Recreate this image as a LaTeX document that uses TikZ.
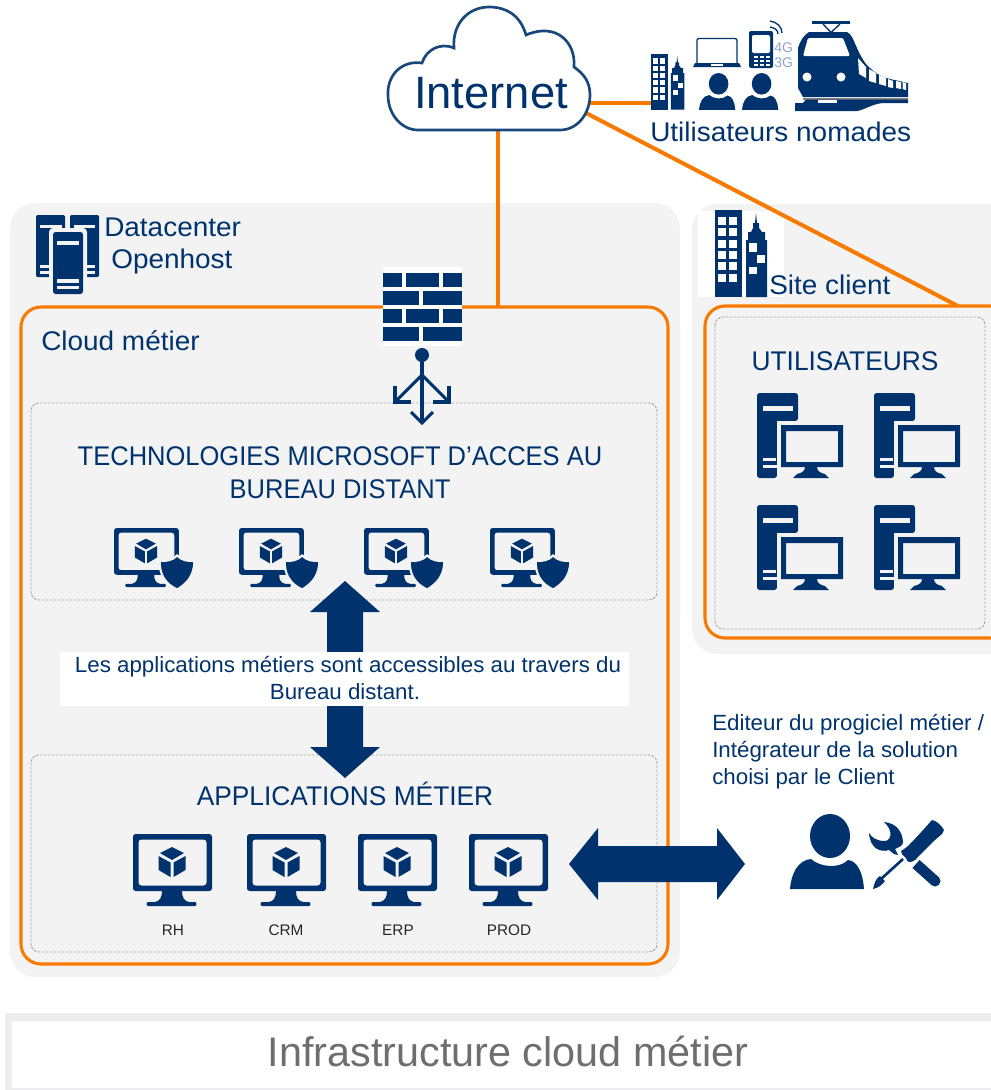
\documentclass[tikz,border=0pt]{standalone}
\usepackage{fontspec}
\setmainfont{Liberation Sans}
\newfontfamily\lowerfont[FakeStretch=1.035]{Liberation Sans}
\newfontfamily\smallfont[FakeStretch=1.015]{Liberation Sans}
\newfontfamily\techfont[FakeStretch=0.945]{Liberation Sans}
\newfontfamily\capsfont[FakeStretch=0.975]{Liberation Sans}
\definecolor{navy}{HTML}{00336E}
\definecolor{wireor}{HTML}{F87A00}
\definecolor{panelgray}{HTML}{F3F3F3}
\definecolor{dashgray}{HTML}{A6A6A6}
\definecolor{bandgray}{HTML}{EDEDEF}
\definecolor{titlegray}{HTML}{6E6E6E}
\definecolor{lightnavy}{HTML}{8FA5C8}
\newcommand{\pxfont}[1]{\fontsize{#1}{#1}\selectfont}
\newcommand{\moncore}{%
  \fill[navy,even odd rule,rounded corners=2pt] (0,0) rectangle (79,57) (5.5,5.5) rectangle (73.5,51.5);
  \fill[navy] (29,57) .. controls (29,63) and (27,67) .. (22,68) -- (15,68) .. controls (13,68) and (13,72) .. (15,72) -- (62,72) .. controls (64,72) and (64,68) .. (62,68) -- (56,68) .. controls (51,67) and (49,63) .. (49,57) -- cycle;
  \fill[navy] (39,13) -- (51,19) -- (39,26) -- (27,19) -- cycle;
  \fill[navy] (25.5,22) -- (37.5,28.5) -- (37.5,43) -- (25.5,36) -- cycle;
  \fill[navy] (52.5,22) -- (40.5,28.5) -- (40.5,43) -- (52.5,36) -- cycle;
}
\tikzset{
  panel/.style={fill=panelgray,rounded corners=19pt},
  orangebox/.style={draw=wireor,line width=2.3pt,rounded corners=15pt},
  dashbox/.style={draw=dashgray,line width=.7pt,dash pattern=on 2pt off 1pt,rounded corners=6pt},
  wire/.style={draw=wireor,line width=3pt},
  blockarrow/.style={fill=navy},
  routerline/.style={navy,line width=2.3pt},
  lbl/.style={inner sep=0pt,text=navy,font=\lowerfont\pxfont{20.25pt}},
  techlbl/.style={inner sep=0pt,text=navy,font=\techfont\pxfont{20.25pt}},
  capslbl/.style={inner sep=0pt,text=navy,font=\capsfont\pxfont{20.25pt}},
  lblsmall/.style={inner sep=0pt,text=navy,font=\smallfont\pxfont{16.5pt}},
  applbl/.style={inner sep=0pt,text=black!85,font=\pxfont{11.5pt},anchor=base},
  net/.style={inner sep=0pt,text=navy,font=\pxfont{34pt},anchor=base},
  monitorpic/.pic={\moncore},
  shieldmonitor/.pic={
    \moncore
    \fill[navy,draw=panelgray,line width=1.6pt] (77,33.5) .. controls (72,39) and (64,41) .. (56,40) .. controls (55,56) and (62,68) .. (77,75) .. controls (89,68) and (98,58) .. (98,40) .. controls (90,41) and (82,39) .. (77,33.5) -- cycle;
    \fill[panelgray] (96.5,30) rectangle (104,78);
  },
  workstation/.pic={
    \fill[navy,rounded corners=2pt] (0,0) -- (41,0) -- (41,28) -- (20,28) -- (20,85) -- (0,85) -- cycle;
    \fill[navy] (20,28) rectangle (24,85);
    \fill[panelgray] (6,13) rectangle (36,18);
    \fill[panelgray] (6,65) rectangle (19,68);
    \fill[panelgray] (6,72) rectangle (21,75);
    \fill[panelgray] (20,28) rectangle (86,85);
    \fill[navy,even odd rule] (24,32) rectangle (86,74) (29,38) rectangle (81,69);
    \fill[navy] (48,74) -- (60,74) .. controls (60,78) and (63,80) .. (68,81) -- (72,85) -- (36,85) -- (40,81) .. controls (45,80) and (48,78) .. (48,74) -- cycle;
  },
  bigbuilding/.pic={
    \fill[navy] (0,0) rectangle (27,87);
    \foreach \cx in {3,14} \foreach \ry in {7,18.3,29.6,40.9,52.2,63.5}
      \fill[white] (\cx,\ry) rectangle +(8,8);
    \fill[navy] (41,3) -- (42,13) -- (44,13) -- (44,18) -- (47,22) -- (50,22) -- (50,30) -- (52,30) -- (52,87) -- (31,87) -- (31,30) -- (33,30) -- (33,22) -- (36,22) -- (38,18) -- (38,13) -- (40,13) -- cycle;
    \fill[white] (34,33) rectangle (42,42);
    \fill[white] (42,45) rectangle (50,53);
    \fill[white] (34,57) rectangle (42,64);
  },
  personicon/.pic={
    \fill[navy] (40,22) ellipse (20 and 22);
    \fill[navy] (0,75) .. controls (1,60) and (8,46) .. (21,45) .. controls (28,52) and (48,56) .. (58,46) .. controls (68,47) and (73,60) .. (74,75) -- cycle;
  },
}
\begin{document}
\begin{tikzpicture}[x=.75pt,y=-.75pt]
\useasboundingbox (0,0) rectangle (991,1090);
\clip (0,0) rectangle (991,1090);
% panels
\fill[panel] (10,203) rectangle (680,977);
\fill[panel] (692,204) rectangle (1030,654);
% site icon
\fill[white] (698,211) rectangle (784,297);
\pic at (715,210) {bigbuilding};
% boxes
\draw[orangebox] (21,307) rectangle (668,964);
\draw[orangebox] (705,306) rectangle (1010,638);
\draw[dashbox] (31,403) rectangle (657,600);
\draw[dashbox] (31,755) rectangle (657,952);
\draw[dashbox] (715,317) rectangle (985,629);
% anchor points and wires
\coordinate (cloudE) at (588,103);
\coordinate (cloudSE) at (586,113);
\coordinate (cloudS) at (498,128);
\coordinate (nomadW) at (652,103);
\coordinate (metierTop) at (498,307);
\coordinate (siteTop) at (958,306);
\draw[wire] (cloudE) -- (nomadW);
\draw[wire] (cloudSE) -- (siteTop);
\draw[wire] (cloudS) -- (metierTop);
% cloud
\draw[navy!90!white,line width=2pt,fill=white] (418,130) -- (560,130) .. controls (578,130) and (590,113) .. (590,95) .. controls (590,82) and (584,74) .. (574,67) .. controls (576,42) and (556,22) .. (526,35) .. controls (520,14) and (505,7) .. (489,7) .. controls (468,7) and (452,24) .. (454,48) .. controls (440,42) and (426,50) .. (422,63) .. controls (402,60) and (387,75) .. (388,95) .. controls (388,115) and (402,130) .. (418,130) -- cycle;
\node[net] (internet) at (491,108) {Internet};
% nomad icons
\pic[scale=.64] at (651,54) {bigbuilding};
\pic[scale=.49] at (699,73) {personicon};
\pic[scale=.49] at (742,73) {personicon};
\draw[navy,line width=1pt,rounded corners=1.5pt] (697,63) -- (697,38.5) -- (737,38.5) -- (737,63);
\fill[navy] (695,63) -- (739,63) -- (741,67) -- (693,67) -- cycle;
\fill[white] (711,64) rectangle (723,66);
\fill[navy,rounded corners=1.5pt] (749,31) rectangle (773,68);
\fill[white,rounded corners=1pt] (752,35) rectangle (770,53);
\foreach \kx in {753.5,759.5,765.5} \foreach \ky in {55.5,59.5,63.5} \fill[white] (\kx,\ky) rectangle +(4.2,2.8);
\draw[navy,line width=1pt] (770,27) .. controls (775,28) and (778,30) .. (778,34);
\draw[navy,line width=1pt] (770,21) .. controls (777,22) and (782,27) .. (782,33);
\node[inner sep=0pt,text=lightnavy,font=\pxfont{10.5pt},anchor=base west] (g4) at (774,52) {4G};
\node[inner sep=0pt,text=lightnavy,font=\pxfont{10.5pt},anchor=base west] (g3) at (774,67) {3G};
% train
\fill[navy] (812,21) rectangle (850,24.3);
\draw[navy,line width=1pt] (823,24) -- (831,32.5) -- (840,24);
\fill[navy] (809,32) -- (847,32) .. controls (852,34) and (854,42) .. (857,48) .. controls (861,57) and (865,64) .. (870,68) .. controls (876,74) and (884,78) .. (890,79) -- (908,83) -- (908,97) -- (803,97) -- (798,88) -- (798,48) .. controls (800,41) and (804,35) .. (809,32) -- cycle;
\fill[white,rounded corners=1pt] (808,38) -- (843,38) -- (850,56) -- (803,56) -- cycle;
\fill[white] (807,77) circle (4.5);
\fill[white] (841,77) circle (4.5);
\fill[white] (858,58) -- (866,67) -- (866,78) -- (859,74) -- cycle;
\fill[white] (869,69) -- (876,73) -- (876,83) -- (869,81) -- cycle;
\fill[white] (879,75) -- (886,78) -- (886,86) -- (879,84) -- cycle;
\fill[white] (888,79) -- (893,81) -- (893,88) -- (888,87) -- cycle;
\fill[white] (896,81) -- (901,82) -- (901,89) -- (896,88) -- cycle;
\fill[white] (902.5,82) -- (906,83) -- (906,90) -- (902.5,89) -- cycle;
\fill[black!50] (803,97.5) rectangle (908,99.5);
\fill[navy] (806,99.5) -- (908,99.5) -- (908,103) -- (883,103) .. controls (872,104) and (864,110) .. (857,111) -- (795,111) -- (795,103) -- (803,103) -- cycle;
\fill[white] (818,99.5) rectangle (837,103);
% labels
\node[lbl,anchor=base west] (nomades) at (650,141) {Utilisateurs nomades};
\node[lbl,anchor=base west] (dc1) at (104,236) {Datacenter};
\node[lbl,anchor=base west] (dc2) at (111,268) {Openhost};
\node[lbl,anchor=base west] (cm) at (41,350) {Cloud métier};
\node[lbl,anchor=base west] (sc) at (769,294) {Site client};
\node[techlbl,anchor=base] (tech1) at (340,465) {TECHNOLOGIES MICROSOFT D’ACCES AU};
\node[techlbl,anchor=base] (tech2) at (340,498) {BUREAU DISTANT};
\node[capslbl,anchor=base] (apps) at (345,805) {APPLICATIONS MÉTIER};
\node[capslbl,anchor=base] (users) at (845,370) {UTILISATEURS};
% datacenter icon
\fill[navy,rounded corners=1pt] (36,215) rectangle (65,277);
\fill[navy,rounded corners=1pt] (70,215) rectangle (99,277);
\fill[panelgray] (40,225) rectangle (62,228);
\fill[panelgray] (74,225) rectangle (95,228);
\fill[panelgray] (40,265) rectangle (50,268);
\fill[panelgray] (40,271) rectangle (50,274);
\fill[panelgray] (85,265) rectangle (95,268);
\fill[panelgray] (85,271) rectangle (95,274);
\fill[panelgray,rounded corners=3pt] (49,228) rectangle (87,300);
\fill[navy,rounded corners=2pt] (53,232) rectangle (83,294);
\fill[panelgray] (57,241) rectangle (79,245);
\fill[panelgray] (57,279) rectangle (79,283);
\fill[panelgray] (57,286) rectangle (79,289);
% firewall
\fill[white] (383,267) rectangle (462,346);
\foreach \ry in {273,309} {
  \fill[navy] (383,\ry) rectangle +(19,14);
  \fill[navy] (406,\ry) rectangle +(33,14);
  \fill[navy] (443,\ry) rectangle +(19,14);
}
\foreach \ry in {291,327} {
  \fill[navy] (383,\ry) rectangle +(36,14);
  \fill[navy] (423,\ry) rectangle +(39,14);
}
% router arrows
\fill[navy] (422,355) circle (7);
\draw[routerline] (422,355) -- (422,422);
\draw[routerline] (395,402) -- (422,375) -- (449,402);
\draw[routerline] (395,386) -- (395,402) -- (411,402);
\draw[routerline] (449,386) -- (449,402) -- (433,402);
\draw[routerline] (411,412) -- (422,423) -- (433,412);
% shield monitors
\foreach \mx in {114,239,364,490} \pic[scale=.82] at (\mx,528) {shieldmonitor};
% vertical arrow
\fill[blockarrow] (345,581) -- (380,612) -- (363,612) -- (363,747) -- (380,747) -- (345,778) -- (310,747) -- (327,747) -- (327,612) -- (310,612) -- cycle;
\fill[white] (60,652) rectangle (629,706);
\node[lblsmall,anchor=base] (acc1) at (348,672) {Les applications métiers sont accessibles au travers du};
\node[lblsmall,anchor=base] (acc2) at (345,699) {Bureau distant.};
% app monitors
\foreach \mx/\lab/\lx in {133/RH/173,247/CRM/286,358/ERP/398,469/PROD/509} {
  \pic at (\mx,834) {monitorpic};
  \node[applbl] (app\lab) at (\lx,935) {\lab};
}
% workstations
\foreach \wx in {757,874} \foreach \wy in {393,505} \pic at (\wx,\wy) {workstation};
% horizontal arrow
\fill[blockarrow] (569,864) -- (598,828) -- (598,846) -- (717,846) -- (717,828) -- (745,864) -- (717,900) -- (717,882) -- (598,882) -- (598,900) -- cycle;
% editor text
\node[lblsmall,anchor=base west] (ed1) at (712,730) {Editeur du progiciel métier /};
\node[lblsmall,anchor=base west] (ed2) at (712,757) {Intégrateur de la solution};
\node[lblsmall,anchor=base west] (ed3) at (712,784) {choisi par le Client};
% editor person and tools
\pic at (790,814) {personicon};
% wrench
\fill[navy] (884,822) .. controls (897,823) and (903,833) .. (903,843) -- (901,846) -- (895,849) -- (898,855) -- (894,854) -- (889,850) .. controls (880,853) and (870,848) .. (869,833) .. controls (872,838) and (877,841) .. (885,841) .. controls (892,840) and (893,830) .. (884,822) -- cycle;
\draw[navy,line width=8pt] (916,864) -- (935,881);
\fill[navy] (935,881) circle (5.5);
% screwdriver
\draw[white,line width=1pt] (942,834) .. controls (932,842) and (924,851) .. (915,860) .. controls (911,863) and (907,863) .. (906,858);
\fill[navy] (932,820) .. controls (937,821) and (941,825) .. (944,830) -- (942,834) .. controls (932,842) and (924,851) .. (915,860) .. controls (911,863) and (907,863) .. (906,858) -- (902,854) -- (901,851) .. controls (904,849) and (906,848) .. (908,846) .. controls (916,838) and (924,829) .. (932,820) -- cycle;
\draw[navy,line width=2pt] (903,859) -- (881,879);
\fill[navy] (873,889) .. controls (874,884) and (876,878) .. (880,876) -- (885,881) .. controls (882,885) and (878,888) .. (873,889) -- cycle;
% title band
\fill[bandgray] (5,1013) rectangle (991,1090);
\fill[white] (12,1021) rectangle (991,1088);
\node[inner sep=0pt,text=titlegray,font=\pxfont{31pt},anchor=base] (title) at (508,1066) {Infrastructure cloud métier};
\end{tikzpicture}
\end{document}
